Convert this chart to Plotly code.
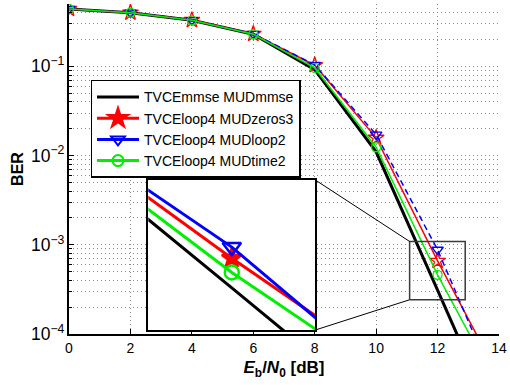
import math
import plotly.graph_objects as go

# ---------------- data ----------------
snr_db = [0, 2, 4, 6, 8, 10, 12, 14]
ber_mmse_mmse = [0.44, 0.40, 0.328, 0.229, 0.092, 0.0110, 3.1e-4, 8.5e-6]
ber_loop4_zeros3 = [0.44, 0.40, 0.330, 0.231, 0.103, 0.0158, 6.6e-4, 3.3e-5]
ber_loop4_loop2 = [0.44, 0.40, 0.330, 0.231, 0.104, 0.0172, 8.8e-4, 2.2e-5]
ber_loop4_time2 = [0.44, 0.40, 0.328, 0.229, 0.096, 0.0124, 4.6e-4, 2.4e-5]

series_names = ["TVCEmmse MUDmmse", "TVCEloop4 MUDzeros3",
                "TVCEloop4 MUDloop2", "TVCEloop4 MUDtime2"]
x_ticks = [0, 2, 4, 6, 8, 10, 12, 14]

# zoom region (main axes data coords) and inset view ranges
zoom_x = [11.09, 12.9]
zoom_y = [2.42e-4, 1.089e-3]
inset_x_range = [11.02, 12.98]
inset_logy_range = [-3.977, -2.31]

# ---------------- layout geometry ----------------
W, H = 510, 385
ML, MR, MT, MB = 69, 11, 4, 51
main_x_range = [0, 14]
main_logy_range = [-4, math.log10(0.5)]
inset_dom_x = [0.1844, 0.5728]
inset_dom_y = [0.0121, 0.4667]

FONT = "Liberation Sans, Arial, Helvetica, sans-serif"
GRID = "#8a8a8a"

fig = go.Figure()

styles = [
    dict(color="black", width=3, dash="solid", symbol=None, size=0),
    dict(color="red", width=1.5, dash="solid", symbol="star-open", size=12),
    dict(color="blue", width=1.5, dash="6px,4px", symbol="triangle-down-open", size=10),
    dict(color="#00ee00", width=1.5, dash="solid", symbol="circle-open", size=9),
]
all_series = [ber_mmse_mmse, ber_loop4_zeros3, ber_loop4_loop2, ber_loop4_time2]

# main traces
for ys, st in zip(all_series, styles):
    fig.add_trace(go.Scatter(
        x=snr_db, y=ys, xaxis="x", yaxis="y",
        mode="lines" if st["symbol"] is None else "lines+markers",
        line=dict(color=st["color"], width=st["width"], dash=st["dash"]),
        marker=dict(symbol=st["symbol"] or "circle", size=st["size"],
                    color=st["color"], line=dict(color=st["color"], width=1.3)),
        showlegend=False, hoverinfo="skip"))

# zoom box on main axes
fig.add_trace(go.Scatter(
    x=[zoom_x[0], zoom_x[1], zoom_x[1], zoom_x[0], zoom_x[0]],
    y=[zoom_y[0], zoom_y[0], zoom_y[1], zoom_y[1], zoom_y[0]],
    xaxis="x", yaxis="y", mode="lines",
    line=dict(color="#3a3a3a", width=1.5), showlegend=False, hoverinfo="skip"))

# inset traces
inset_styles = [
    dict(color="black", symbol=None, size=0),
    dict(color="red", symbol="star", size=15),
    dict(color="blue", symbol="triangle-down-open", size=16),
    dict(color="#00ee00", symbol="circle-open", size=14),
]
marker_idx = snr_db.index(12)
for ys, st in zip(all_series, inset_styles):
    fig.add_trace(go.Scatter(
        x=snr_db, y=ys, xaxis="x2", yaxis="y2", mode="lines",
        line=dict(color=st["color"], width=3),
        showlegend=False, hoverinfo="skip"))
    if st["symbol"]:
        fig.add_trace(go.Scatter(
            x=[snr_db[marker_idx]], y=[ys[marker_idx]], xaxis="x2", yaxis="y2",
            mode="markers",
            marker=dict(symbol=st["symbol"], size=st["size"], color=st["color"],
                        line=dict(color=st["color"], width=2.5)),
            showlegend=False, hoverinfo="skip"))

# legend-only traces
leg_styles = [
    dict(color="black", symbol=None, size=0),
    dict(color="red", symbol="star", size=15),
    dict(color="blue", symbol="triangle-down-open", size=12),
    dict(color="#00ee00", symbol="circle-open", size=11),
]
for name, st in zip(series_names, leg_styles):
    fig.add_trace(go.Scatter(
        x=[None], y=[None], xaxis="x", yaxis="y", name=name,
        mode="lines" if st["symbol"] is None else "lines+markers",
        line=dict(color=st["color"], width=3),
        marker=dict(symbol=st["symbol"] or "circle", size=st["size"], color=st["color"],
                    line=dict(color=st["color"], width=2)),
        showlegend=True))

# connector lines (paper coords computed from axis ranges)
def to_paper_x(v):
    return (v - main_x_range[0]) / (main_x_range[1] - main_x_range[0])

def to_paper_y(v):
    return (math.log10(v) - main_logy_range[0]) / (main_logy_range[1] - main_logy_range[0])

shapes = [
    dict(type="line", xref="paper", yref="paper",
         x0=to_paper_x(zoom_x[0]), y0=to_paper_y(zoom_y[1]),
         x1=inset_dom_x[1], y1=inset_dom_y[1],
         line=dict(color="black", width=1)),
    dict(type="line", xref="paper", yref="paper",
         x0=to_paper_x(zoom_x[0]), y0=to_paper_y(zoom_y[0]),
         x1=inset_dom_x[1], y1=inset_dom_y[0],
         line=dict(color="black", width=1)),
]

fig.update_layout(
    width=W, height=H,
    margin=dict(l=ML, r=MR, t=MT, b=MB, pad=0, autoexpand=False),
    paper_bgcolor="white", plot_bgcolor="white",
    font=dict(family=FONT, size=14, color="black"),
    shapes=shapes,
    showlegend=True,
    legend=dict(x=0.05, y=0.77, xanchor="left", yanchor="top",
                bgcolor="white", bordercolor="black", borderwidth=1.5,
                font=dict(family=FONT, size=14, color="black"),
                itemwidth=42,
                tracegroupgap=0, itemsizing="trace"),
    xaxis=dict(domain=[0, 1], range=main_x_range, tickvals=x_ticks,
               automargin=False,
               ticks="inside", ticklen=5, tickcolor="black",
               showline=True, linecolor="black", linewidth=1.5,
               showgrid=True, gridcolor=GRID, griddash="1px,3px", gridwidth=1,
               zeroline=False,
               tickfont=dict(size=14),
               title=dict(text="<b><i>E</i><sub>b</sub>/<i>N</i><sub>0</sub> [dB]</b>",
                          font=dict(size=17), standoff=7)),
    yaxis=dict(domain=[0, 1], type="log", range=main_logy_range, dtick=1,
               automargin=False,
               exponentformat="power",
               ticks="inside", ticklen=5, tickcolor="black",
               showline=True, linecolor="black", linewidth=1.5,
               showgrid=True, gridcolor=GRID, griddash="1px,3px", gridwidth=1,
               zeroline=False,
               minor=dict(dtick="D1", ticks="inside", ticklen=3, tickcolor="black",
                          showgrid=True, gridcolor=GRID, griddash="1px,3px", gridwidth=1),
               tickfont=dict(size=14),
               title=dict(text="<b>BER</b>", font=dict(size=16), standoff=3)),
    xaxis2=dict(domain=inset_dom_x, anchor="y2", range=inset_x_range,
                showline=True, mirror=True, linecolor="black", linewidth=2,
                showgrid=False, zeroline=False, showticklabels=False, ticks=""),
    yaxis2=dict(domain=inset_dom_y, anchor="x2", type="log", range=inset_logy_range,
                showline=True, mirror=True, linecolor="black", linewidth=2,
                showgrid=False, zeroline=False, showticklabels=False, ticks=""),
)

fig.write_html("out.html",
               config={"displayModeBar": False},
               post_script="document.body.style.margin='0';document.body.style.padding='0';")
